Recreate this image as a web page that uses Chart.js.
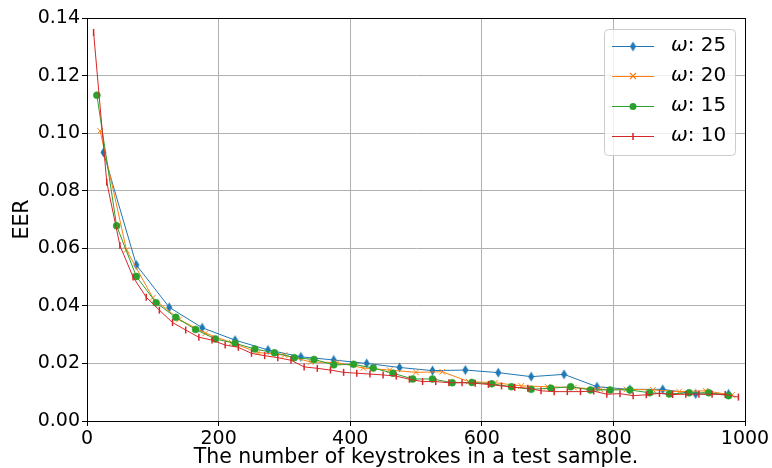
<!DOCTYPE html>
<html>
<head>
<meta charset="utf-8">
<script src="https://cdn.jsdelivr.net/npm/chart.js@4"></script>
<style>
  html, body { margin: 0; padding: 0; background: #fff; }
</style>
</head>
<body>
<canvas id="eerChart" width="772" height="468"></canvas>
<script>
// EER vs. number of keystrokes, one series per window size

const keysW25 = [25, 75, 125, 175, 225, 275, 325, 375, 425, 475, 525, 575, 625, 675, 725, 775, 825, 875, 925, 975];
const eerW25 = [0.0933, 0.0542, 0.0395, 0.0324, 0.0281, 0.0247, 0.0223, 0.0212, 0.0200, 0.0186,
                0.0175, 0.0177, 0.0168, 0.0154, 0.0162, 0.0119, 0.0110, 0.0110, 0.0094, 0.0094];

const keysW20 = [20, 60, 100, 140, 180, 220, 260, 300, 340, 380, 420, 460, 500, 540, 580, 620, 660, 700,
                 740, 780, 820, 860, 900, 940, 980];
const eerW20 = [0.1008, 0.0594, 0.0428, 0.0353, 0.0305, 0.0272, 0.0238, 0.0229, 0.0205, 0.0203,
                0.0184, 0.0177, 0.0169, 0.0171, 0.0137, 0.0133, 0.0122, 0.0119, 0.0116, 0.0110,
                0.0110, 0.0108, 0.0102, 0.0105, 0.0090];

const keysW15 = [15, 45, 75, 105, 135, 165, 195, 225, 255, 285, 315, 345, 375, 405, 435, 465, 495, 525,
                 555, 585, 615, 645, 675, 705, 735, 765, 795, 825, 855, 885, 915, 945, 975];
const eerW15 = [0.1132, 0.0678, 0.0502, 0.0411, 0.0360, 0.0318, 0.0285, 0.0270, 0.0250, 0.0237,
                0.0220, 0.0214, 0.0195, 0.0197, 0.0184, 0.0166, 0.0146, 0.0146, 0.0133, 0.0134,
                0.0129, 0.0119, 0.0110, 0.0114, 0.0119, 0.0108, 0.0108, 0.0108, 0.0098, 0.0094,
                0.0098, 0.0098, 0.0088];

const keysW10 = [10, 30, 50, 70, 90, 110, 130, 150, 170, 190, 210, 230, 250, 270, 290, 310, 330, 350,
                 370, 390, 410, 430, 450, 470, 490, 510, 530, 550, 570, 590, 610, 630, 650, 670,
                 690, 710, 730, 750, 770, 790, 810, 830, 850, 870, 890, 910, 930, 950, 970, 990];
const eerW10 = [0.1350, 0.0830, 0.0610, 0.0500, 0.0430, 0.0385, 0.0342, 0.0316, 0.0291, 0.0281,
                0.0264, 0.0256, 0.0235, 0.0227, 0.0220, 0.0211, 0.0188, 0.0183, 0.0177, 0.0169,
                0.0166, 0.0163, 0.0160, 0.0156, 0.0145, 0.0137, 0.0137, 0.0133, 0.0133, 0.0131,
                0.0127, 0.0122, 0.0117, 0.0114, 0.0105, 0.0102, 0.0102, 0.0102, 0.0104, 0.0093,
                0.0095, 0.0088, 0.0091, 0.0096, 0.0092, 0.0093, 0.0093, 0.0093, 0.0092, 0.0083];

const seriesNames = ['25', '20', '15', '10'];
const xTickValues = [0, 200, 400, 600, 800, 1000];
const yTickValues = [0, 0.02, 0.04, 0.06, 0.08, 0.10, 0.12, 0.14];

const BLUE = '#1f77b4', ORANGE = '#ff7f0e', GREEN = '#2ca02c', RED = '#d62728';
const FONT = "'DejaVu Sans', sans-serif";

// thin diamond marker (matplotlib 'd')
function makeDiamond(color) {
    const c = document.createElement('canvas');
    c.width = 7; c.height = 11;
    const g = c.getContext('2d');
    g.fillStyle = color;
    g.beginPath();
    g.moveTo(3.5, 0.5); g.lineTo(6.5, 5.5); g.lineTo(3.5, 10.5); g.lineTo(0.5, 5.5);
    g.closePath();
    g.fill();
    return c;
}
const diamond = makeDiamond(BLUE);

function pairs(xs, ys) {
    return xs.map((x, i) => ({ x: x, y: ys[i] }));
}

// axes frame + legend box inside the plot
const framePlugin = {
    id: 'frame',
    afterDatasetsDraw(chart) {
        const { ctx, chartArea: a } = chart;
        ctx.save();
        ctx.strokeStyle = '#000';
        ctx.lineWidth = 1;
        ctx.strokeRect(Math.round(a.left) + 0.5, Math.round(a.top) + 0.5,
                       Math.round(a.right - a.left), Math.round(a.bottom - a.top));
        ctx.restore();
    },
    afterDraw(chart) {
        const ctx = chart.ctx;
        const bx = 604, by = 29, bw = 131, bh = 126;
        ctx.save();
        ctx.beginPath();
        ctx.roundRect(bx + 0.5, by + 0.5, bw, bh, 4);
        ctx.fillStyle = 'rgba(255,255,255,0.8)';
        ctx.fill();
        ctx.strokeStyle = '#cccccc';
        ctx.lineWidth = 1;
        ctx.stroke();

        const colors = [BLUE, ORANGE, GREEN, RED];
        for (let i = 0; i < 4; i++) {
            const y = 46 + i * 30;
            ctx.strokeStyle = colors[i];
            ctx.lineWidth = 1.2;
            ctx.beginPath();
            ctx.moveTo(612, y + 0.5); ctx.lineTo(654, y + 0.5);
            ctx.stroke();
            const mx = 633;
            if (i === 0) {
                ctx.drawImage(diamond, mx - 3.5, y - 5);
            } else if (i === 1) {
                ctx.beginPath();
                ctx.moveTo(mx - 3, y - 3); ctx.lineTo(mx + 3, y + 3);
                ctx.moveTo(mx + 3, y - 3); ctx.lineTo(mx - 3, y + 3);
                ctx.stroke();
            } else if (i === 2) {
                ctx.fillStyle = GREEN;
                ctx.beginPath(); ctx.arc(mx, y + 0.5, 3.5, 0, Math.PI * 2); ctx.fill();
            } else {
                ctx.lineWidth = 1.5;
                ctx.beginPath(); ctx.moveTo(mx, y - 3); ctx.lineTo(mx, y + 4); ctx.stroke();
            }
            ctx.fillStyle = '#000';
            ctx.textBaseline = 'middle';
            ctx.font = 'italic 20px ' + FONT;
            ctx.fillText('\u03c9', 671, y);
            const w = ctx.measureText('\u03c9').width;
            ctx.font = '20px ' + FONT;
            ctx.fillText(': ' + seriesNames[i], 671 + w, y);
        }
        ctx.restore();
    }
};

const common = { borderWidth: 1, tension: 0, fill: false };

new Chart(document.getElementById('eerChart').getContext('2d'), {
    type: 'line',
    data: {
        datasets: [
            Object.assign({
                label: '\u03c9: ' + seriesNames[0], data: pairs(keysW25, eerW25), order: 4,
                borderColor: BLUE, backgroundColor: BLUE, pointStyle: diamond, pointRadius: 5
            }, common),
            Object.assign({
                label: '\u03c9: ' + seriesNames[1], data: pairs(keysW20, eerW20), order: 3,
                borderColor: ORANGE, backgroundColor: ORANGE, pointStyle: 'crossRot', pointRadius: 4,
                pointBorderWidth: 1
            }, common),
            Object.assign({
                label: '\u03c9: ' + seriesNames[2], data: pairs(keysW15, eerW15), order: 2,
                borderColor: GREEN, backgroundColor: GREEN, pointStyle: 'circle', pointRadius: 3.5,
                pointBorderWidth: 0.5
            }, common),
            Object.assign({
                label: '\u03c9: ' + seriesNames[3], data: pairs(keysW10, eerW10), order: 1,
                borderColor: RED, backgroundColor: RED, pointStyle: 'line', pointRotation: 90,
                pointRadius: 3.5, pointBorderWidth: 1.5
            }, common)
        ]
    },
    options: {
        responsive: false,
        animation: false,
        layout: { padding: { left: 0, right: 27, top: 18, bottom: 0 } },
        plugins: { legend: { display: false }, tooltip: { enabled: false } },
        scales: {
            x: {
                type: 'linear', min: 0, max: 1000,
                afterBuildTicks: s => { s.ticks = xTickValues.map(v => ({ value: v })); },
                afterFit: s => { s.height = 47; },
                ticks: {
                    color: '#000', font: { family: FONT, size: 19 }, padding: 2, maxRotation: 0,
                    callback: v => String(v)
                },
                grid: { color: '#b0b0b0', lineWidth: 1, tickColor: '#000', tickLength: 5 },
                border: { color: '#000' },
                title: {
                    display: true, text: 'The number of keystrokes in a test sample.',
                    color: '#000', font: { family: FONT, size: 20.5, lineHeight: 1 },
                    padding: { top: 0, bottom: 0 }
                }
            },
            y: {
                type: 'linear', min: 0, max: 0.14,
                afterBuildTicks: s => { s.ticks = yTickValues.map(v => ({ value: v })); },
                afterFit: s => { s.width = 87; },
                ticks: {
                    color: '#000', font: { family: FONT, size: 19 }, padding: 2,
                    callback: v => v.toFixed(2)
                },
                grid: { color: '#b0b0b0', lineWidth: 1, tickColor: '#000', tickLength: 5 },
                border: { color: '#000' },
                title: {
                    display: true, text: 'EER',
                    color: '#000', font: { family: FONT, size: 20.5, lineHeight: 1 },
                    padding: { top: 12, bottom: 0 }
                }
            }
        }
    },
    plugins: [framePlugin]
});
</script>
</body>
</html>
